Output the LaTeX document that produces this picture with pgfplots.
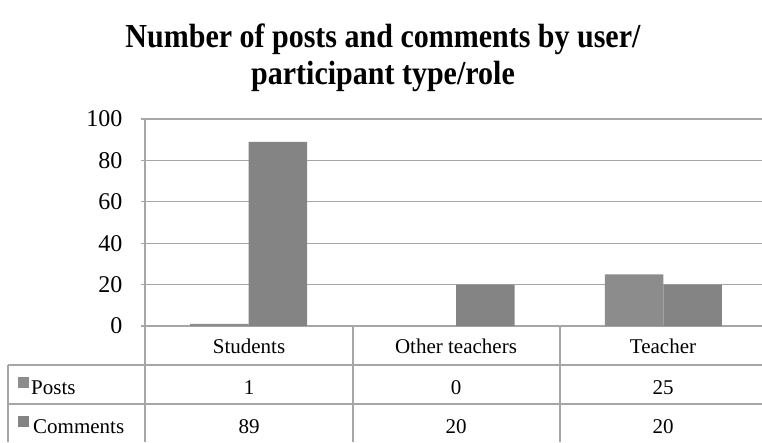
\documentclass[border=0pt]{standalone}
\usepackage{fontspec}
\setmainfont{Liberation Serif}
\usepackage{pgfplots}
\pgfplotsset{compat=1.18}
\definecolor{gridgray}{HTML}{A6A6A6}
\definecolor{postsgray}{HTML}{8C8C8C}
\definecolor{commgray}{HTML}{848484}
\begin{document}
\begin{tikzpicture}[x=1pt,y=1pt]
\path[use as bounding box] (0,0) rectangle (762,442);
\node[font=\bfseries\fontsize{30}{37}\selectfont, align=center] at (383,384)
  {\scalebox{1}[1.12]{Number of posts and comments by user/}\\\scalebox{1}[1.12]{participant type/role}};
\begin{axis}[
  at={(145pt,116pt)}, anchor=south west, scale only axis,
  width=622pt, height=207pt,
  xmin=-0.5, xmax=2.5, ymin=0, ymax=100,
  ybar, bar width=58.5pt,
  xtick=\empty, ytick={0,20,...,100},
  axis x line*=bottom, axis y line*=left,
  axis line style={gridgray, line width=1.2pt, -},
  ymajorgrids, grid style={gridgray, line width=1.2pt},
  tick align=outside, major tick length=4pt,
  tick style={gridgray, line width=1.2pt},
  yticklabel style={font=\fontsize{24}{24}\selectfont, xshift=-15pt, /pgf/number format/assume math mode=true},
  clip=false,
]
\addplot[fill=postsgray, draw=none, bar shift=-29.25pt] coordinates {(0,1) (1,0) (2,25)};
\addplot[fill=commgray, draw=none, bar shift=29.25pt] coordinates {(0,89) (1,20) (2,20)};
\end{axis}
% data table below the plot
\draw[gridgray, line width=1.2pt] (145,116) -- (145,0);
\draw[gridgray, line width=1.2pt] (353,116) -- (353,0);
\draw[gridgray, line width=1.2pt] (560,116) -- (560,0);
\draw[gridgray, line width=1.2pt] (8,77) -- (8,0);
\draw[gridgray, line width=1.2pt] (8,77) -- (762,77);
\draw[gridgray, line width=1.2pt] (8,38) -- (762,38);
\begin{scope}[every node/.style={font=\fontsize{21}{21}\selectfont, inner sep=0pt}]
\node at (249,96) {Students};
\node at (456,96) {Other teachers};
\node at (663,96) {Teacher};
\fill[postsgray] (18,54) rectangle (29,65);
\fill[commgray] (18,15) rectangle (29,26);
\node[anchor=base west] at (31,48) {Posts};
\node[anchor=base west] at (33,9) {Comments};
\node[anchor=base] at (249,48) {1};
\node[anchor=base] at (456,48) {0};
\node[anchor=base] at (663,48) {25};
\node[anchor=base] at (249,9) {89};
\node[anchor=base] at (456,9) {20};
\node[anchor=base] at (663,9) {20};
\end{scope}
\end{tikzpicture}
\end{document}
